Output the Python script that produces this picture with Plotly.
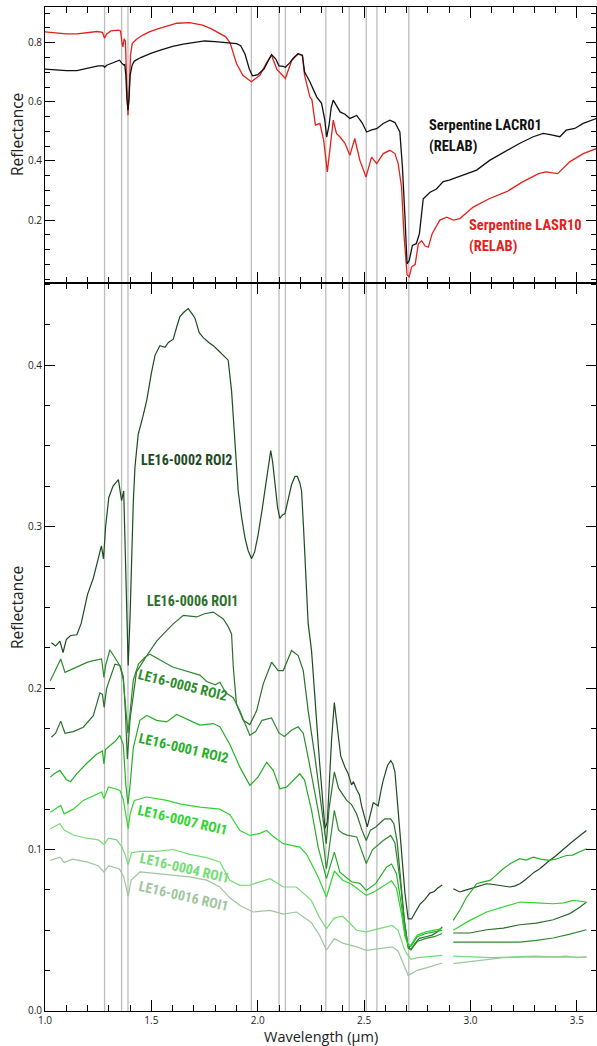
import plotly.graph_objects as go

# ---------------------------------------------------------------- data
# RELAB library spectra (upper panel): (wavelength um, reflectance)
lacr01 = [(1.00,0.711),(1.05,0.708),(1.10,0.706),(1.15,0.706),(1.20,0.713),(1.25,0.722),(1.275,0.722),
          (1.28,0.717),(1.29,0.724),(1.33,0.735),(1.35,0.741),(1.36,0.732),(1.37,0.725),(1.375,0.726),
          (1.38,0.690),(1.385,0.610),(1.39,0.572),(1.395,0.610),(1.40,0.690),(1.41,0.725),(1.42,0.738),
          (1.45,0.750),(1.50,0.765),(1.55,0.777),(1.60,0.788),(1.65,0.795),(1.70,0.801),(1.75,0.806),
          (1.80,0.804),(1.85,0.801),(1.90,0.797),(1.92,0.790),(1.94,0.762),(1.96,0.712),(1.975,0.688),
          (2.00,0.692),(2.03,0.712),(2.05,0.740),(2.065,0.760),(2.085,0.745),(2.10,0.722),(2.12,0.720),
          (2.13,0.717),(2.15,0.732),(2.17,0.750),(2.19,0.763),(2.21,0.758),(2.22,0.702),(2.245,0.668),
          (2.277,0.617),(2.30,0.595),(2.315,0.540),(2.324,0.481),(2.335,0.520),(2.345,0.580),(2.355,0.606),
          (2.37,0.585),(2.387,0.566),(2.41,0.558),(2.433,0.544),(2.465,0.554),(2.49,0.530),(2.512,0.498),
          (2.535,0.505),(2.559,0.509),(2.59,0.527),(2.621,0.538),(2.645,0.530),(2.668,0.498),(2.68,0.380),
          (2.692,0.210),(2.702,0.052),(2.712,0.063),(2.727,0.114),(2.745,0.120),(2.76,0.154),(2.778,0.272),
          (2.81,0.294),(2.84,0.305),(2.872,0.330),(2.90,0.335),(2.966,0.352),(3.029,0.369),(3.09,0.402),
          (3.17,0.436),(3.23,0.459),(3.295,0.482),(3.342,0.493),(3.38,0.488),(3.42,0.482),(3.45,0.504),
          (3.49,0.510),(3.53,0.527),(3.593,0.544)]

lasr10 = [(1.00,0.837),(1.05,0.834),(1.10,0.830),(1.15,0.830),(1.20,0.833),(1.245,0.838),(1.27,0.835),
          (1.28,0.815),(1.29,0.830),(1.31,0.840),(1.345,0.843),(1.355,0.840),(1.362,0.800),(1.366,0.786),
          (1.372,0.813),(1.378,0.805),(1.384,0.663),(1.39,0.555),(1.396,0.640),(1.402,0.760),(1.41,0.797),
          (1.43,0.812),(1.46,0.826),(1.49,0.837),(1.53,0.847),(1.57,0.855),(1.62,0.866),(1.68,0.868),
          (1.74,0.860),(1.78,0.848),(1.81,0.835),(1.83,0.828),(1.85,0.820),(1.87,0.800),(1.90,0.730),
          (1.93,0.690),(1.97,0.668),(2.01,0.690),(2.04,0.730),(2.065,0.758),(2.09,0.710),(2.13,0.679),
          (2.16,0.741),(2.19,0.763),(2.21,0.755),(2.22,0.690),(2.245,0.617),(2.255,0.606),(2.262,0.560),
          (2.271,0.521),(2.292,0.527),(2.31,0.470),(2.327,0.363),(2.34,0.450),(2.355,0.538),(2.37,0.493),
          (2.387,0.481),(2.41,0.460),(2.433,0.419),(2.456,0.476),(2.48,0.402),(2.509,0.346),(2.535,0.413),
          (2.559,0.391),(2.59,0.425),(2.621,0.436),(2.645,0.425),(2.66,0.391),(2.676,0.312),(2.687,0.154),
          (2.702,0.014),(2.712,0.008),(2.723,0.041),(2.74,0.050),(2.755,0.120),(2.77,0.130),(2.787,0.112),
          (2.802,0.108),(2.82,0.154),(2.856,0.200),(2.888,0.210),(2.92,0.200),(2.95,0.205),(3.013,0.244),
          (3.09,0.273),(3.17,0.296),(3.245,0.329),(3.32,0.357),(3.355,0.363),(3.41,0.357),(3.466,0.397),
          (3.53,0.425),(3.593,0.442)]

# Field spectra (lower panel); None marks the masked 2.87-2.92 um gap
le16_0002_roi2 = [(1.03,0.228),(1.05,0.226),(1.07,0.229),(1.085,0.222),(1.10,0.230),(1.12,0.2325),(1.15,0.233),
          (1.17,0.240),(1.20,0.258),(1.227,0.268),(1.25,0.280),(1.265,0.288),(1.275,0.280),(1.285,0.300),
          (1.30,0.318),(1.32,0.325),(1.345,0.329),(1.355,0.322),(1.36,0.316),(1.37,0.322),(1.378,0.280),
          (1.385,0.240),(1.391,0.214),(1.40,0.245),(1.407,0.281),(1.415,0.315),(1.423,0.337),(1.438,0.357),
          (1.46,0.368),(1.478,0.378),(1.50,0.395),(1.517,0.406),(1.54,0.412),(1.564,0.411),(1.58,0.414),
          (1.603,0.416),(1.62,0.424),(1.634,0.430),(1.655,0.433),(1.673,0.435),(1.69,0.432),(1.705,0.429),
          (1.725,0.420),(1.744,0.417),(1.77,0.414),(1.791,0.412),(1.815,0.409),(1.838,0.406),(1.861,0.403),
          (1.877,0.384),(1.893,0.355),(1.908,0.322),(1.925,0.305),(1.94,0.293),(1.955,0.285),(1.971,0.280),
          (1.985,0.284),(2.002,0.295),(2.02,0.310),(2.034,0.322),(2.05,0.338),(2.061,0.347),(2.07,0.340),
          (2.081,0.326),(2.093,0.312),(2.104,0.305),(2.115,0.307),(2.128,0.308),(2.14,0.315),(2.159,0.326),
          (2.175,0.331),(2.186,0.331),(2.198,0.327),(2.206,0.322),(2.215,0.300),(2.222,0.281),(2.237,0.240),
          (2.253,0.223),(2.265,0.200),(2.277,0.176),(2.29,0.155),(2.30,0.139),(2.316,0.113),(2.327,0.117),
          (2.337,0.145),(2.347,0.168),(2.36,0.191),(2.37,0.180),(2.378,0.168),(2.39,0.158),(2.41,0.151),
          (2.425,0.147),(2.441,0.140),(2.45,0.142),(2.465,0.137),(2.478,0.134),(2.488,0.127),(2.50,0.121),
          (2.515,0.114),(2.53,0.122),(2.543,0.129),(2.555,0.128),(2.566,0.127),(2.58,0.137),(2.59,0.143),
          (2.61,0.152),(2.625,0.155),(2.635,0.153),(2.645,0.148),(2.655,0.132),(2.668,0.110),(2.68,0.090),
          (2.692,0.073),(2.707,0.057),(2.723,0.057),(2.74,0.061),(2.762,0.066),(2.785,0.069),(2.809,0.073),
          (2.83,0.074),(2.845,0.076),(2.867,0.078),(2.89,None),
          (2.919,0.0757),(2.935,0.0745),(2.95,0.0737),(2.97,0.0745),(2.997,0.0757),(3.03,0.077),(3.076,0.0788),
          (3.10,0.0785),(3.138,0.0778),(3.16,0.077),(3.185,0.0768),(3.21,0.0775),(3.232,0.0788),(3.255,0.081),
          (3.279,0.084),(3.30,0.086),(3.326,0.0881),(3.35,0.091),(3.373,0.0933),(3.40,0.096),(3.42,0.0984),
          (3.445,0.101),(3.467,0.1036),(3.49,0.106),(3.514,0.1087),(3.545,0.1118)]

le16_0006_roi1 = [(1.03,0.1695),(1.05,0.172),(1.074,0.1795),(1.094,0.172),(1.133,0.173),(1.18,0.1757),
          (1.227,0.1829),(1.258,0.197),(1.27,0.196),(1.278,0.188),(1.29,0.200),(1.31,0.208),(1.329,0.2148),
          (1.352,0.214),(1.368,0.207),(1.378,0.185),(1.387,0.156),(1.40,0.1808),(1.43,0.210),(1.478,0.220),
          (1.525,0.229),(1.56,0.234),(1.603,0.2397),(1.65,0.245),(1.713,0.244),(1.75,0.246),(1.791,0.247),
          (1.838,0.2428),(1.861,0.238),(1.877,0.2335),(1.885,0.213),(1.90,0.190),(1.932,0.180),(1.963,0.1774),
          (1.995,0.186),(2.026,0.2026),(2.065,0.216),(2.096,0.2108),(2.12,0.2108),(2.159,0.2232),(2.19,0.2201),
          (2.214,0.2108),(2.237,0.186),(2.269,0.1572),(2.292,0.1324),(2.311,0.1118),(2.322,0.1036),(2.335,0.125),
          (2.36,0.148),(2.38,0.138),(2.418,0.1304),(2.44,0.128),(2.465,0.122),(2.49,0.112),(2.51,0.1056),
          (2.53,0.112),(2.555,0.114),(2.58,0.117),(2.597,0.119),(2.625,0.119),(2.64,0.116),(2.655,0.105),
          (2.67,0.085),(2.69,0.055),(2.707,0.040),(2.72,0.038),(2.74,0.042),(2.76,0.045),(2.79,0.046),
          (2.82,0.047),(2.845,0.049),(2.867,0.052),(2.89,None),
          (2.919,0.0483),(2.997,0.0483),(3.076,0.0503),(3.154,0.0513),(3.232,0.0534),(3.31,0.0544),
          (3.389,0.0565),(3.467,0.0603),(3.514,0.0643),(3.545,0.0675)]

le16_0005_roi2 = [(1.025,0.2045),(1.045,0.210),(1.074,0.218),(1.094,0.2097),(1.13,0.212),(1.165,0.2138),
          (1.20,0.216),(1.227,0.217),(1.266,0.218),(1.277,0.2066),(1.285,0.214),(1.305,0.2237),(1.329,0.219),
          (1.352,0.2138),(1.368,0.205),(1.38,0.185),(1.39,0.172),(1.40,0.185),(1.415,0.205),(1.44,0.215),
          (1.47,0.219),(1.493,0.221),(1.53,0.218),(1.56,0.216),(1.60,0.213),(1.65,0.211),(1.70,0.209),
          (1.728,0.208),(1.76,0.204),(1.80,0.202),(1.822,0.2036),(1.85,0.197),(1.885,0.194),(1.916,0.186),
          (1.94,0.178),(1.963,0.1707),(1.99,0.173),(2.02,0.180),(2.065,0.1815),(2.10,0.1722),(2.125,0.170),
          (2.16,0.174),(2.19,0.176),(2.214,0.172),(2.24,0.155),(2.27,0.135),(2.30,0.113),(2.323,0.0881),
          (2.335,0.100),(2.36,0.1242),(2.38,0.112),(2.40,0.110),(2.42,0.1089),(2.465,0.1078),(2.51,0.0913),
          (2.54,0.100),(2.59,0.1056),(2.625,0.1087),(2.645,0.104),(2.67,0.080),(2.69,0.055),(2.707,0.039),
          (2.72,0.038),(2.75,0.043),(2.79,0.045),(2.83,0.046),(2.867,0.048),(2.89,None),
          (2.919,0.0427),(3.00,0.0427),(3.076,0.0427),(3.154,0.0425),(3.232,0.0427),(3.31,0.0437),
          (3.389,0.0452),(3.467,0.0476),(3.545,0.0503)]

le16_0001_roi2 = [(1.025,0.1448),(1.045,0.147),(1.07,0.149),(1.10,0.1434),(1.12,0.142),(1.15,0.147),
          (1.196,0.1534),(1.243,0.159),(1.27,0.161),(1.277,0.153),(1.285,0.162),(1.33,0.167),(1.352,0.1706),
          (1.368,0.165),(1.38,0.140),(1.39,0.128),(1.40,0.140),(1.415,0.163),(1.446,0.180),(1.478,0.183),
          (1.525,0.180),(1.572,0.179),(1.619,0.1836),(1.665,0.181),(1.728,0.177),(1.791,0.178),(1.822,0.176),
          (1.869,0.165),(1.916,0.151),(1.963,0.1397),(2.002,0.145),(2.042,0.154),(2.073,0.149),(2.104,0.1376),
          (2.135,0.1386),(2.198,0.1469),(2.22,0.143),(2.253,0.1242),(2.284,0.1015),(2.323,0.082),(2.36,0.0984),
          (2.386,0.086),(2.441,0.080),(2.48,0.079),(2.51,0.0747),(2.555,0.079),(2.605,0.0891),(2.629,0.091),
          (2.652,0.085),(2.676,0.065),(2.692,0.048),(2.707,0.040),(2.72,0.040),(2.75,0.046),(2.79,0.048),
          (2.83,0.049),(2.867,0.050),(2.89,None),
          (2.919,0.0561),(2.95,0.0625),(2.98,0.070),(3.029,0.0788),(3.06,0.080),(3.092,0.0809),(3.12,0.084),
          (3.154,0.0881),(3.19,0.0915),(3.232,0.0943),(3.26,0.0935),(3.295,0.0953),(3.33,0.094),(3.37,0.0933),
          (3.40,0.094),(3.451,0.0963),(3.48,0.0965),(3.514,0.0984),(3.545,0.1005)]

le16_0007_roi1 = [(1.025,0.1231),(1.05,0.125),(1.074,0.1273),(1.09,0.1221),(1.133,0.125),(1.18,0.1304),
          (1.227,0.1335),(1.266,0.1356),(1.277,0.1315),(1.298,0.1387),(1.33,0.1376),(1.352,0.1366),
          (1.368,0.131),(1.38,0.120),(1.391,0.1129),(1.40,0.122),(1.42,0.1304),(1.478,0.1325),(1.572,0.1304),
          (1.634,0.1283),(1.728,0.1262),(1.822,0.125),(1.869,0.1215),(1.916,0.1118),(1.963,0.1087),
          (2.01,0.110),(2.042,0.1118),(2.073,0.108),(2.12,0.1036),(2.198,0.1015),(2.23,0.097),(2.284,0.083),
          (2.323,0.0706),(2.36,0.0867),(2.40,0.081),(2.441,0.0785),(2.51,0.0716),(2.55,0.074),(2.629,0.0806),
          (2.652,0.076),(2.676,0.060),(2.692,0.046),(2.707,0.041),(2.72,0.041),(2.75,0.047),(2.79,0.049),
          (2.83,0.050),(2.867,0.051),(2.89,None),
          (2.919,0.050),(2.997,0.0561),(3.076,0.0613),(3.154,0.0643),(3.232,0.0675),(3.31,0.067),
          (3.389,0.0664),(3.44,0.067),(3.482,0.0685),(3.545,0.0675)]

le16_0004_roi1 = [(1.025,0.1129),(1.07,0.116),(1.09,0.112),(1.133,0.109),(1.196,0.107),(1.25,0.106),
          (1.277,0.103),(1.298,0.107),(1.337,0.106),(1.36,0.102),(1.376,0.097),(1.391,0.0907),(1.407,0.098),
          (1.446,0.0989),(1.525,0.0989),(1.603,0.100),(1.681,0.097),(1.76,0.095),(1.822,0.0923),(1.869,0.0809),
          (1.916,0.0778),(1.963,0.078),(2.058,0.0819),(2.12,0.0768),(2.182,0.0768),(2.252,0.0685),(2.29,0.058),
          (2.323,0.051),(2.36,0.0577),(2.40,0.0587),(2.465,0.050),(2.51,0.049),(2.57,0.051),(2.632,0.053),
          (2.66,0.050),(2.69,0.038),(2.70,0.0355),(2.72,0.032),(2.75,0.033),(2.80,0.0335),(2.867,0.0345),
          (2.89,None),
          (2.919,0.034),(3.00,0.0335),(3.10,0.033),(3.20,0.0335),(3.30,0.034),(3.40,0.0335),(3.45,0.034),
          (3.50,0.033),(3.545,0.0335)]

le16_0016_roi1 = [(1.025,0.0933),(1.07,0.0953),(1.09,0.092),(1.13,0.094),(1.20,0.0922),(1.25,0.090),
          (1.277,0.0861),(1.30,0.090),(1.35,0.088),(1.37,0.083),(1.391,0.071),(1.405,0.081),(1.446,0.0861),
          (1.52,0.085),(1.60,0.084),(1.68,0.083),(1.76,0.081),(1.82,0.077),(1.869,0.0701),(1.92,0.065),
          (1.979,0.0613),(2.058,0.0623),(2.12,0.060),(2.182,0.0613),(2.25,0.055),(2.29,0.047),(2.323,0.0376),
          (2.36,0.0448),(2.40,0.042),(2.465,0.0397),(2.51,0.0376),(2.57,0.0387),(2.632,0.0397),(2.66,0.037),
          (2.69,0.028),(2.707,0.0221),(2.72,0.023),(2.75,0.0252),(2.80,0.027),(2.867,0.0297),(2.89,None),
          (2.919,0.0293),(3.00,0.0305),(3.10,0.032),(3.154,0.033),(3.25,0.0334),(3.35,0.0334),(3.45,0.033),
          (3.545,0.0334)]

# absorption-feature guide lines (um)
band_centres = [1.28, 1.36, 1.39, 1.97, 2.10, 2.13, 2.32, 2.43, 2.51, 2.56, 2.71]

# ---------------------------------------------------------------- styling
LABEL_FONT = "Roboto Condensed, Roboto, sans-serif"
AXIS_FONT = "Open Sans, Lato, sans-serif"

field_series = [
    # name, data, colour, label position (um, refl), label angle
    ("LE16-0002 ROI2", le16_0002_roi2, "#1d4a1f", (1.663, 0.3412), 0),
    ("LE16-0006 ROI1", le16_0006_roi1, "#2b6f2b", (1.695, 0.2538), 0),
    ("LE16-0005 ROI2", le16_0005_roi2, "#2d8c2d", (1.648, 0.2018), 14),
    ("LE16-0001 ROI2", le16_0001_roi2, "#27ad27", (1.653, 0.1628), 13),
    ("LE16-0007 ROI1", le16_0007_roi1, "#30d430", (1.648, 0.1182), 13),
    ("LE16-0004 ROI1", le16_0004_roi1, "#74dc74", (1.658, 0.0884), 13),
    ("LE16-0016 ROI1", le16_0016_roi1, "#9fc59f", (1.653, 0.0711), 13),
]


def unzip(pairs):
    return [p[0] for p in pairs], [p[1] for p in pairs]


fig = go.Figure()

for name, data, colour, _, _ in field_series:
    wl, refl = unzip(data)
    fig.add_trace(go.Scatter(x=wl, y=refl, mode="lines", name=name,
                             line=dict(color=colour, width=1.2),
                             xaxis="x", yaxis="y", connectgaps=False, showlegend=False))

for name, data, colour in [("Serpentine LASR10", lasr10, "#e0221b"),
                           ("Serpentine LACR01", lacr01, "#111111")]:
    wl, refl = unzip(data)
    fig.add_trace(go.Scatter(x=wl, y=refl, mode="lines", name=name,
                             line=dict(color=colour, width=1.3),
                             xaxis="x2", yaxis="y2", showlegend=False))

shapes = [dict(type="line", xref="x", yref="paper", x0=w, x1=w, y0=0, y1=1,
               line=dict(color="#bdbdbd", width=1.3), layer="below")
          for w in band_centres]

annotations = []
for name, _, colour, (lx, ly), ang in field_series:
    annotations.append(dict(x=lx, y=ly, xref="x", yref="y", text="<b>%s</b>" % name,
                            showarrow=False, textangle=ang,
                            font=dict(family=LABEL_FONT, size=14, color=colour)))

for text, lx, ly, colour in [("Serpentine LACR01", 2.795, 0.5215, "#111111"),
                             ("(RELAB)", 2.795, 0.448, "#111111"),
                             ("Serpentine LASR10", 2.983, 0.1827, "#e0221b"),
                             ("(RELAB)", 2.983, 0.112, "#e0221b")]:
    annotations.append(dict(x=lx, y=ly, xref="x2", yref="y2", text="<b>%s</b>" % text,
                            showarrow=False, xanchor="left", yanchor="middle",
                            font=dict(family=LABEL_FONT, size=14.5, color=colour)))

for yc in (0.8725, 0.4014):
    annotations.append(dict(x=-0.0508, y=yc, xref="paper", yref="paper", text="Reflectance",
                            showarrow=False, textangle=-90, xanchor="center", yanchor="middle",
                            font=dict(family=AXIS_FONT, size=15.5, color="#222222")))

annotations.append(dict(x=0.501, y=-0.0255, xref="paper", yref="paper", text="Wavelength (µm)",
                        showarrow=False, xanchor="center", yanchor="middle",
                        font=dict(family=AXIS_FONT, size=14.5, color="#222222")))

split = 0.7251
common = dict(showline=True, linecolor="black", linewidth=1, mirror="allticks",
              ticks="inside", tickcolor="black", showgrid=False, zeroline=False,
              tickfont=dict(family=AXIS_FONT, size=10, color="#222222"))

fig.update_layout(
    width=597, height=1046,
    margin=dict(l=45, r=1, t=7, b=35),
    paper_bgcolor="white", plot_bgcolor="white",
    shapes=shapes, annotations=annotations,
    xaxis=dict(anchor="y", range=[1.0, 3.59], dtick=0.5, tick0=1.0, tickformat=".1f",
               ticklen=11, minor=dict(dtick=0.1, tick0=1.0, ticklen=6, ticks="inside", tickcolor="black"),
               **common),
    xaxis2=dict(anchor="y2", matches="x", range=[1.0, 3.59], dtick=0.5, tick0=1.0,
                showticklabels=False, ticklen=11,
                minor=dict(dtick=0.1, tick0=1.0, ticklen=6, ticks="inside", tickcolor="black"),
                **common),
    yaxis=dict(domain=[0, split], range=[0, 0.4508], dtick=0.1, tick0=0, tickformat=".1f",
               ticklen=10, minor=dict(dtick=0.025, tick0=0, ticklen=5, ticks="inside", tickcolor="black"),
               **common),
    yaxis2=dict(domain=[split, 1], range=[-0.013, 0.921], tickmode="array",
                tickvals=[0.2, 0.4, 0.6, 0.8], ticktext=["0.2", "0.4", "0.6", "0.8"], ticklen=10,
                minor=dict(dtick=0.05, tick0=0, ticklen=5, ticks="inside", tickcolor="black"),
                **common),
)
fig.update_yaxes(tickfont=dict(size=11), selector=dict(anchor="x2"))

fig.write_html("out.html")
